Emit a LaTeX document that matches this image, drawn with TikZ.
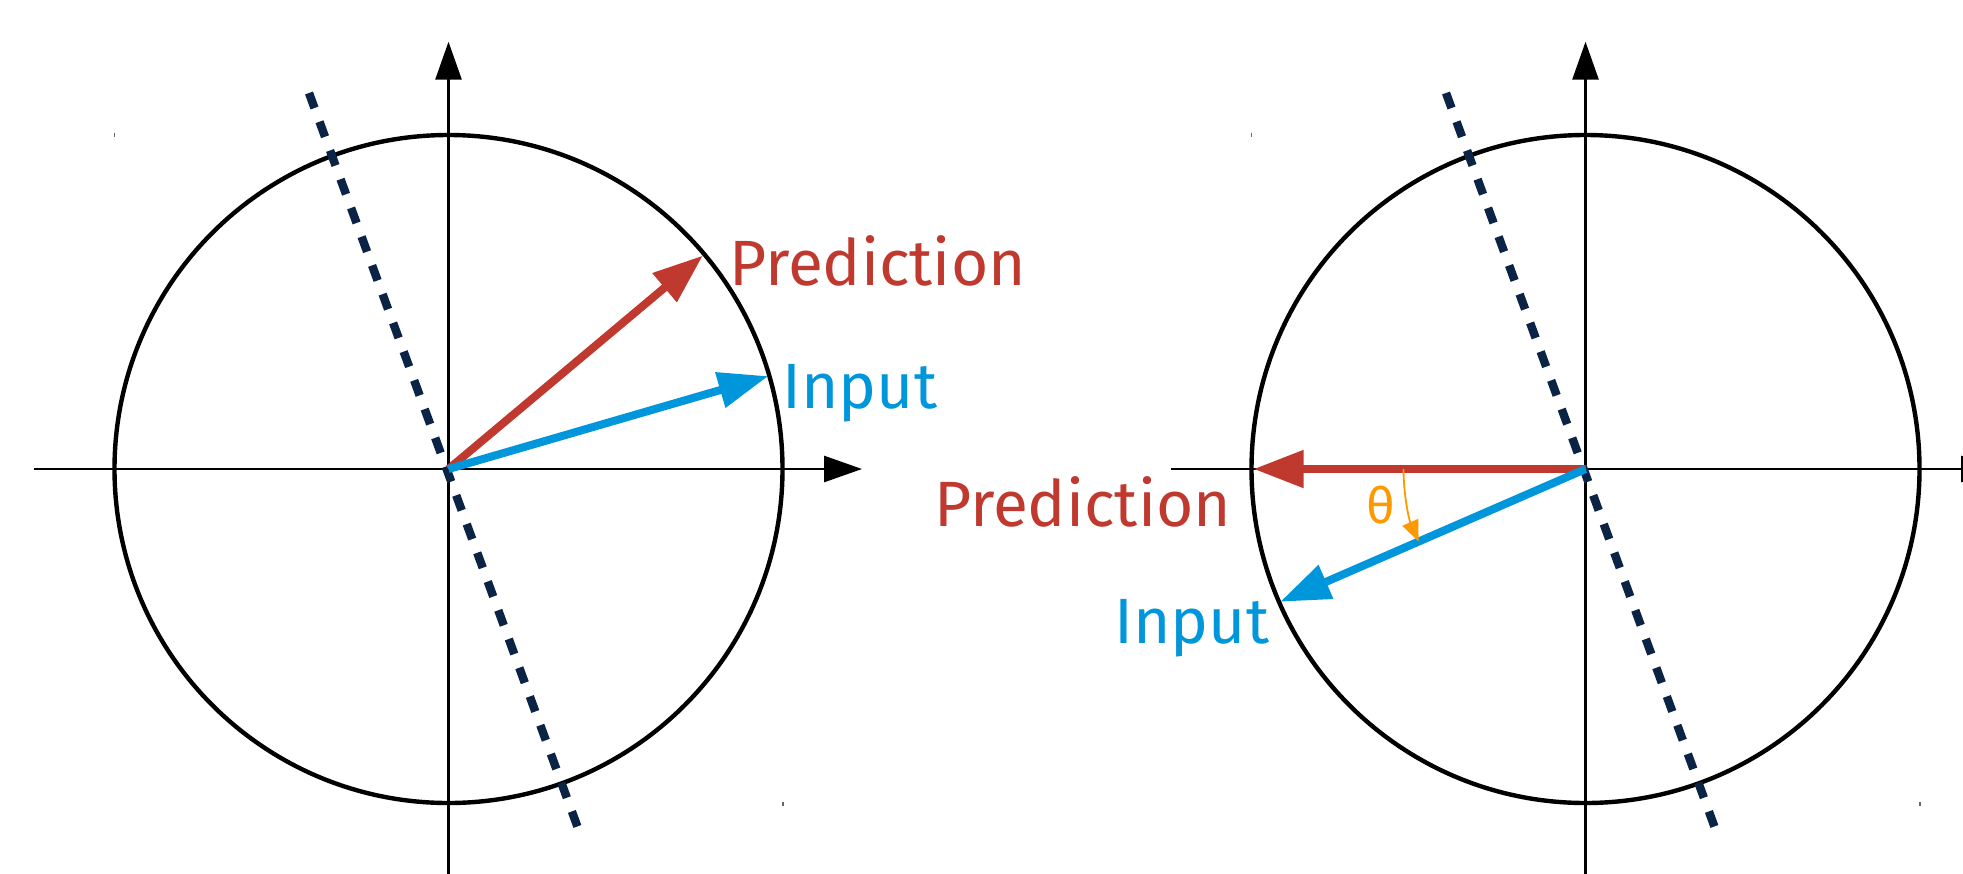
\documentclass[tikz,border=0pt]{standalone}
\usepackage{fontspec}
\setmainfont{Fira Sans}
\usetikzlibrary{arrows.meta,calc}
\definecolor{predred}{HTML}{C0392F}
\definecolor{inblue}{HTML}{0096DB}
\definecolor{thorange}{HTML}{FF9900}
\definecolor{dashnavy}{HTML}{0B2344}
\tikzset{
  axisline/.style={line width=1.4pt, black, -{Triangle[length=19pt,width=13pt]}},
  unitcircle/.style={line width=2.2pt, black},
  sepline/.style={line width=4.2pt, dashnavy, dash pattern=on 8pt off 7.3pt},
  predvec/.style={line width=4pt, predred, -{Triangle[length=25pt,width=18pt]}},
  invec/.style={line width=4pt, inblue, -{Triangle[length=25pt,width=17.5pt]}},
  anglearc/.style={line width=0.9pt, thorange, -{Triangle[length=10.5pt,width=8.5pt]}},
  lbl/.style={font=\fontsize{32}{38}\selectfont, inner sep=0pt, anchor=base west},
  tinymark/.style={line width=0.6pt, black!60},
}
\begin{document}
\begin{tikzpicture}[x=0.5pt,y=-0.5pt]
\useasboundingbox (0,0) rectangle (1963,873);
\clip (0,0) rectangle (1963,873);
% ---------- left panel ----------
\coordinate (L) at (448.5,469);
\coordinate (Lxs) at (34,469);
\coordinate (Lxe) at (862,469);
\coordinate (Lys) at (448.5,900);
\coordinate (Lye) at (448.5,41.7);
\draw[unitcircle] (L) circle[radius=334];
\draw[axisline] (Lxs) -- (Lxe);
\draw[axisline] (Lys) -- (Lye);
\coordinate (Ldt) at ($(L)+(-139.5,-376)$);
\coordinate (Ldb) at ($(L)+(132,366)$);
\draw[sepline] (Ldt) -- (Ldb);
\coordinate (Lpred) at ($(L)+(-40:332)$);
\coordinate (Lin) at ($(L)+(-16.2:333)$);
\draw[predvec] (L) -- (Lpred);
\draw[invec] (L) -- (Lin);
\node[lbl, text=predred] (LpredT) at (729,285) {Prediction};
\node[lbl, text=inblue] (LinT) at (782,408) {Input};
\draw[tinymark] (114.5,132.5) -- (114.5,136.5);
\draw[tinymark] (783,801.5) -- (783,805.5);
% ---------- right panel ----------
\coordinate (R) at (1585.5,469);
\coordinate (Rxs) at (1171,469);
\coordinate (Rxe) at (1999,469);
\coordinate (Rys) at (1585.5,900);
\coordinate (Rye) at (1585.5,41.7);
\draw[unitcircle] (R) circle[radius=334];
\draw[axisline] (Rxs) -- (Rxe);
\draw[axisline] (Rys) -- (Rye);
\coordinate (Rdt) at ($(R)+(-139.5,-376)$);
\coordinate (Rdb) at ($(R)+(132,366)$);
\draw[sepline] (Rdt) -- (Rdb);
\coordinate (Rpred) at ($(R)+(180:332)$);
\coordinate (Rin) at ($(R)+(156.5:333)$);
\draw[predvec] (R) -- (Rpred);
\draw[invec] (R) -- (Rin);
\coordinate (Tstart) at ($(R)+(180:182)$);
\draw[anglearc] (Tstart) arc[start angle=180, end angle=156.5, radius=182];
\node[font=\fontsize{25}{30}\selectfont, text=thorange, inner sep=0pt] (theta) at (1381,505) {θ};
\node[lbl, text=predred] (RpredT) at (934,526) {Prediction};
\node[lbl, text=inblue] (RinT) at (1114,643) {Input};
\draw[tinymark] (1251.5,132.5) -- (1251.5,136.5);
\draw[tinymark] (1920,801.5) -- (1920,805.5);
\end{tikzpicture}
\end{document}
